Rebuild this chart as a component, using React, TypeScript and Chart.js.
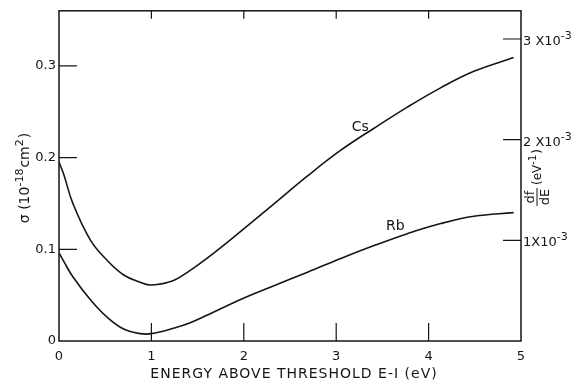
import React, { useEffect, useRef } from "react";
import { Chart, registerables } from "chart.js";

Chart.register(...registerables);

// Energy above threshold, E - I (eV)
const energy = [0, 0.05, 0.15, 0.34, 0.52, 0.7, 0.88, 1.0, 1.24, 1.42, 1.6, 1.96, 2.32, 2.69, 3.05, 3.41, 3.77, 4.13, 4.49, 4.92];
// Photoionization cross sections, 10^-18 cm^2
const csSigma = [0.195, 0.182, 0.15, 0.11, 0.088, 0.072, 0.064, 0.061, 0.066, 0.077, 0.09, 0.119, 0.149, 0.18, 0.208, 0.232, 0.255, 0.276, 0.294, 0.309];
const rbSigma = [0.096, 0.087, 0.07, 0.045, 0.026, 0.013, 0.008, 0.008, 0.014, 0.02, 0.028, 0.045, 0.06, 0.075, 0.09, 0.104, 0.117, 0.128, 0.136, 0.14];

const xTicks = [0, 1, 2, 3, 4, 5];
const yTicks = [0, 0.1, 0.2, 0.3];
const yTickLabels = ["0", "0.1", "0.2", "0.3"];
const y1Ticks = [0.001, 0.002, 0.003];
const y1TickMantissas = ["1X10", "2 X10", "3 X10"];
const y1TickExponent = "-3";

const seriesNames = ["Cs", "Rb"];
// where each curve's name is written, in data units
const nameAnchors = [
  { x: 3.26, y: 0.233 },
  { x: 3.64, y: 0.125 },
];

const INK = "#151515";
const FONT = "'DejaVu Sans', sans-serif";

type Run = { t: string; sup?: boolean };

// draws a run of text with raised, smaller exponents; returns the width used
function drawRuns(ctx: CanvasRenderingContext2D, runs: Run[], x: number, y: number, size: number, supSize: number, draw = true) {
  let cx = x;
  runs.forEach((r) => {
    ctx.font = `${r.sup ? supSize : size}px ${FONT}`;
    if (draw) ctx.fillText(r.t, cx, r.sup ? y - size * 0.45 : y);
    cx += ctx.measureText(r.t).width + (r.sup ? 1 : 0);
  });
  return cx - x;
}

const decorations = {
  id: "decorations",
  afterDatasetsDraw(chart: any) {
    const { ctx, chartArea: a, scales } = chart;
    const sx = scales.x;
    const sy = scales.y;
    const sy1 = scales.y1;
    ctx.save();
    ctx.strokeStyle = INK;
    ctx.fillStyle = INK;
    ctx.lineWidth = 1.5;
    ctx.strokeRect(a.left, a.top, a.right - a.left, a.bottom - a.top);

    // inward tick marks
    ctx.lineWidth = 1.2;
    ctx.beginPath();
    xTicks.slice(1, -1).forEach((v) => {
      const px = sx.getPixelForValue(v);
      ctx.moveTo(px, a.bottom);
      ctx.lineTo(px, a.bottom - 18);
      ctx.moveTo(px, a.top);
      ctx.lineTo(px, a.top + 8);
    });
    yTicks.slice(1).forEach((v) => {
      const py = sy.getPixelForValue(v);
      ctx.moveTo(a.left, py);
      ctx.lineTo(a.left + 18, py);
    });
    y1Ticks.forEach((v) => {
      const py = sy1.getPixelForValue(v);
      ctx.moveTo(a.right, py);
      ctx.lineTo(a.right - 18, py);
    });
    ctx.stroke();

    // right-hand tick labels, e.g. 3 X10^-3
    ctx.textAlign = "left";
    ctx.textBaseline = "alphabetic";
    y1Ticks.forEach((v, i) => {
      const py = sy1.getPixelForValue(v);
      drawRuns(ctx, [{ t: y1TickMantissas[i] }, { t: y1TickExponent, sup: true }], a.right + 2, py + 6, 13, 11);
    });

    // curve names
    ctx.font = `14px ${FONT}`;
    ctx.textAlign = "center";
    ctx.textBaseline = "middle";
    seriesNames.forEach((name, i) => {
      ctx.fillText(name, sx.getPixelForValue(nameAnchors[i].x), sy.getPixelForValue(nameAnchors[i].y));
    });

    // x axis title
    ctx.font = `14px ${FONT}`;
    (ctx as any).letterSpacing = "1px";
    ctx.textAlign = "center";
    ctx.textBaseline = "middle";
    ctx.fillText("ENERGY ABOVE THRESHOLD E-I (eV)", (a.left + a.right) / 2 + 4, 374);
    (ctx as any).letterSpacing = "0px";

    // left axis title, reading upward
    ctx.save();
    ctx.translate(29, 178);
    ctx.rotate(-Math.PI / 2);
    ctx.textAlign = "left";
    ctx.textBaseline = "alphabetic";
    const leftRuns: Run[] = [{ t: "σ (10" }, { t: "-18", sup: true }, { t: "cm" }, { t: "2", sup: true }, { t: ")" }];
    const w = drawRuns(ctx, leftRuns, 0, 0, 14, 11, false);
    drawRuns(ctx, leftRuns, -w / 2, 0, 14, 11);
    ctx.restore();

    // right axis title: df/dE (eV^-1), reading upward
    ctx.save();
    ctx.translate(a.right + 16, 188);
    ctx.rotate(-Math.PI / 2);
    ctx.font = `13px ${FONT}`;
    ctx.textAlign = "center";
    ctx.textBaseline = "alphabetic";
    ctx.fillText("df", -9, -3);
    ctx.textBaseline = "top";
    ctx.fillText("dE", -9, 2);
    ctx.lineWidth = 1;
    ctx.beginPath();
    ctx.moveTo(-18, 0);
    ctx.lineTo(0, 0);
    ctx.stroke();
    ctx.textAlign = "left";
    ctx.textBaseline = "alphabetic";
    drawRuns(ctx, [{ t: "(eV" }, { t: "-1", sup: true }, { t: ")" }], 3, 4, 12, 10);
    ctx.restore();

    ctx.restore();
  },
};

export default function App() {
  const ref = useRef<HTMLCanvasElement>(null);

  useEffect(() => {
    if (!ref.current) return;
    const tickFont = { family: FONT, size: 13 };
    const line = {
      borderColor: INK,
      borderWidth: 1.6,
      pointRadius: 0,
      tension: 0.4,
      yAxisID: "y",
    };
    const chart = new Chart(ref.current, {
      type: "line",
      data: {
        datasets: [
          { ...line, label: seriesNames[0], data: energy.map((x, i) => ({ x, y: csSigma[i] })) },
          { ...line, label: seriesNames[1], data: energy.map((x, i) => ({ x, y: rbSigma[i] })) },
        ],
      },
      options: {
        responsive: false,
        devicePixelRatio: 1,
        animation: false,
        layout: { padding: { top: 10, left: 0, right: 0, bottom: 0 } },
        plugins: { legend: { display: false }, tooltip: { enabled: false } },
        scales: {
          x: {
            type: "linear",
            min: 0,
            max: 5,
            grid: { display: false, drawTicks: false },
            border: { display: false },
            afterBuildTicks: (s: any) => {
              s.ticks = xTicks.map((value) => ({ value }));
            },
            afterFit: (s: any) => {
              s.height = 44;
            },
            ticks: { color: INK, font: tickFont, padding: 8, maxRotation: 0, callback: (v: any) => String(v) },
          },
          y: {
            type: "linear",
            position: "left",
            min: 0,
            max: 0.36,
            grid: { display: false, drawTicks: false },
            border: { display: false },
            afterBuildTicks: (s: any) => {
              s.ticks = yTicks.map((value) => ({ value }));
            },
            afterFit: (s: any) => {
              s.width = 59;
            },
            ticks: {
              color: INK,
              font: tickFont,
              padding: 3,
              callback: (v: any) => yTickLabels[yTicks.indexOf(Number(v))] ?? "",
            },
          },
          y1: {
            type: "linear",
            position: "right",
            min: 0,
            max: 0.00328,
            grid: { display: false, drawTicks: false },
            border: { display: false },
            afterBuildTicks: (s: any) => {
              s.ticks = y1Ticks.map((value) => ({ value }));
            },
            afterFit: (s: any) => {
              s.width = 57;
            },
            ticks: { display: false },
          },
        },
      },
      plugins: [decorations],
    } as any);
    return () => chart.destroy();
  }, []);

  return (
    <div style={{ position: "fixed", left: 0, top: 0, width: 578, height: 385, background: "#fff" }}>
      <canvas ref={ref} width={578} height={385} style={{ width: 578, height: 385, display: "block" }} />
    </div>
  );
}
